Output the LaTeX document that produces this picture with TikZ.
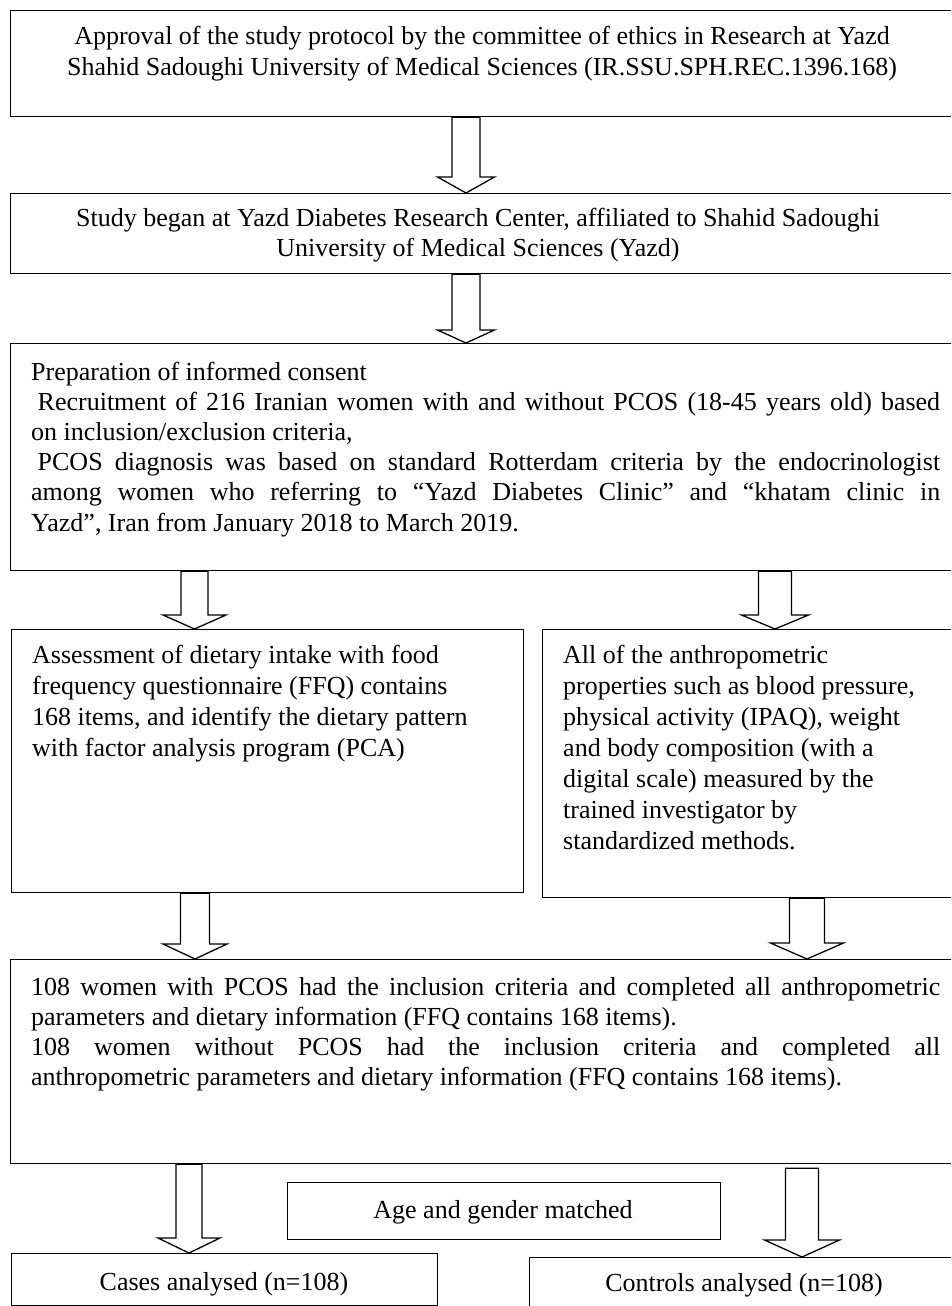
\documentclass[tikz,border=0pt]{standalone}
\usepackage{fontspec}
\setmainfont{Liberation Serif}
\usetikzlibrary{calc}
\tikzset{
  frame/.style={draw, line width=1.3pt, inner sep=0pt, anchor=north west},
  txt/.style={inner sep=0pt, anchor=base west, font=\fontsize{26}{30.2}\selectfont},
  blockarrow/.style={draw, fill=white, line width=1.3pt, line join=miter},
}
% #1 x-coordinate name, #2 start point, #3 end point, #4 shaft half width, #5 head half width, #6 head length
\newcommand\blockarr[6]{%
  \draw[blockarrow] let \p1=(#2 -| #1), \p2=(#3 -| #1) in
    (\x1-#4pt,\y1) -- (\x1-#4pt,\y2+#6pt) -- (\x1-#5pt,\y2+#6pt) -- (\p2)
    -- (\x1+#5pt,\y2+#6pt) -- (\x1+#4pt,\y2+#6pt) -- (\x1+#4pt,\y1) -- cycle;}
\begin{document}
\begin{tikzpicture}[x=1pt,y=-1pt]
\useasboundingbox (0,0) rectangle (951,1306);
\clip (0,0) rectangle (951,1306);

% boxes
\node[frame, minimum width=948pt, minimum height=106pt] (b1) at (10,10) {};
\node[frame, minimum width=948pt, minimum height=80pt]  (b2) at (10,193) {};
\node[frame, minimum width=948pt, minimum height=227pt] (b3) at (10,343) {};
\node[frame, minimum width=512pt, minimum height=263pt] (b4l) at (11,629) {};
\node[frame, minimum width=416pt, minimum height=268pt] (b4r) at (542,629) {};
\node[frame, minimum width=948pt, minimum height=204pt] (b5) at (10,959) {};
\node[frame, minimum width=433pt, minimum height=57pt]  (age) at (287,1182) {};
\node[frame, minimum width=426pt, minimum height=52pt]  (cases) at (11,1253) {};
\node[frame, minimum width=429pt, minimum height=60pt]  (controls) at (529,1257) {};

% texts
\node[txt, anchor=base] (t1) at (482,45) {\parbox[t]{930pt}{\centering
Approval of the study protocol by the committee of ethics in Research at Yazd\\
Shahid Sadoughi University of Medical Sciences (IR.SSU.SPH.REC.1396.168)}};

\node[txt, anchor=base] (t2) at (478,226) {\parbox[t]{930pt}{\centering
Study began at Yazd Diabetes Research Center, affiliated to Shahid Sadoughi\\
University of Medical Sciences (Yazd)}};

\node[txt] (t3) at (31,380) {\parbox[t]{909pt}{\raggedright
Preparation of informed consent\\
\makebox[\linewidth][s]{\hspace*{6.5pt}Recruitment of 216 Iranian women with and without PCOS (18-45 years old) based}\\
on inclusion/exclusion criteria,\\
\makebox[\linewidth][s]{\hspace*{6.5pt}PCOS diagnosis was based on standard Rotterdam criteria by the endocrinologist}\\
\makebox[\linewidth][s]{among women who referring to “Yazd Diabetes Clinic” and “khatam clinic in}\\
Yazd”, Iran from January 2018 to March 2019.}};

\node[txt, font=\fontsize{26}{31}\selectfont] (t4l) at (32,663) {\parbox[t]{480pt}{\raggedright
Assessment of dietary intake with food\\
frequency questionnaire (FFQ) contains\\
168 items, and identify the dietary pattern\\
with factor analysis program (PCA)}};

\node[txt, font=\fontsize{26}{31}\selectfont] (t4r) at (563,663) {\parbox[t]{380pt}{\raggedright
All of the anthropometric\\
properties such as blood pressure,\\
physical activity (IPAQ), weight\\
and body composition (with a\\
digital scale) measured by the\\
trained investigator by\\
standardized methods.}};

\node[txt] (t5) at (31,995) {\parbox[t]{909pt}{\raggedright
\makebox[\linewidth][s]{108 women with PCOS had the inclusion criteria and completed all anthropometric}\\
parameters and dietary information (FFQ contains 168 items).\\
\makebox[\linewidth][s]{108 women without PCOS had the inclusion criteria and completed all}\\
anthropometric parameters and dietary information (FFQ contains 168 items).}};

\node[txt, anchor=base] (tage) at (503,1218) {Age and gender matched};
\node[txt, anchor=base] (tcases) at (224,1290) {Cases analysed (n=108)};
\node[txt, anchor=base] (tcontrols) at (744,1291) {Controls analysed (n=108)};

% arrow axes
\coordinate (xa) at (466,0);
\coordinate (xl3) at (194.5,0);
\coordinate (xr3) at (775,0);
\coordinate (xl4) at (195,0);
\coordinate (xr4) at (807,0);
\coordinate (xl5) at (189,0);
\coordinate (xr5) at (802,0);
\coordinate (b5gap) at ([yshift=-4pt]b5.south);

% block arrows
\blockarr{xa}{b1.south}{b2.north}{14}{28.5}{16}
\blockarr{xa}{b2.south}{b3.north}{14}{28.5}{13}
\blockarr{xl3}{b3.south}{b4l.north}{13.5}{31.5}{14}
\blockarr{xr3}{b3.south}{b4r.north}{16.5}{33.5}{14}
\blockarr{xl4}{b4l.south}{b5.north}{14.5}{32}{15}
\blockarr{xr4}{b4r.south}{b5.north}{17.5}{36.5}{16}
\blockarr{xl5}{b5.south}{cases.north}{13}{31}{15}
\blockarr{xr5}{b5gap}{controls.north}{16.5}{37.5}{17}
\end{tikzpicture}
\end{document}
